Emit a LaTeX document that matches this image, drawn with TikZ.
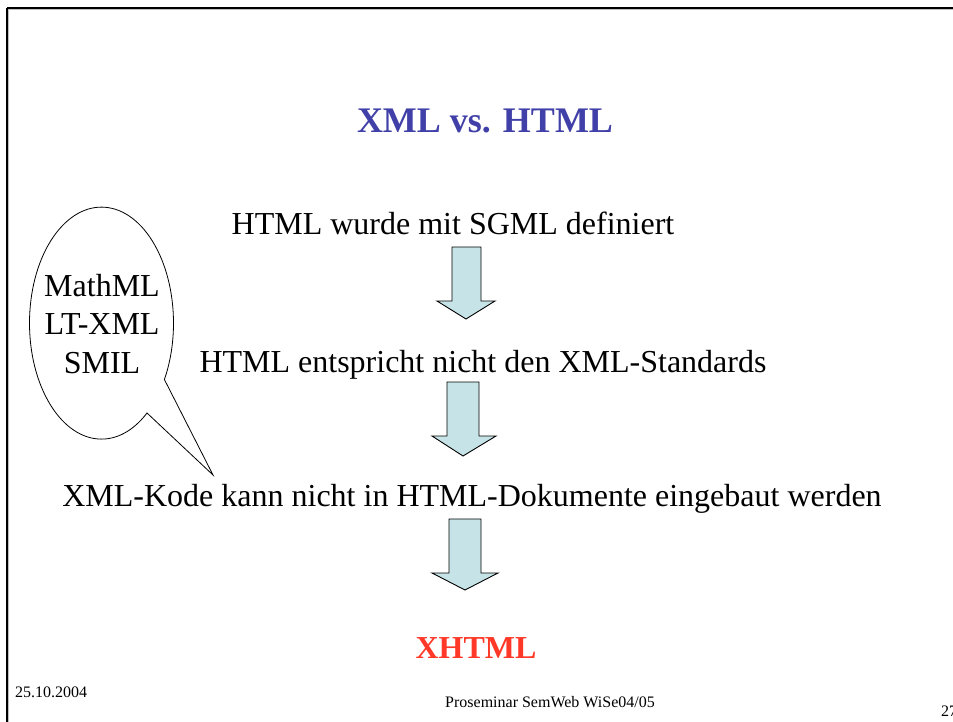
\documentclass[tikz,border=0pt]{standalone}
\usepackage{fontspec}
\setmainfont{Liberation Serif}
\definecolor{titleblue}{RGB}{64,64,168}
\definecolor{xred}{RGB}{255,56,40}
\definecolor{arrowfill}{RGB}{198,228,231}
\begin{document}
\begin{tikzpicture}[x=1pt,y=-1pt,
  body/.style={anchor=base,inner sep=0pt,font=\fontsize{32}{38.5}\selectfont},
  foot/.style={anchor=base west,inner sep=0pt,font=\fontsize{16}{19}\selectfont},
  blockarrow/.style={draw=black,line width=0.9pt,fill=arrowfill,line join=miter}]
\useasboundingbox (0,0) rectangle (953,722);
% frame
\draw[gray!50,line width=1.2pt] (8.5,9.5) -- (953,9.5);
\draw[gray!50,line width=1.2pt] (8.5,9.5) -- (8.5,722);
\draw[black,line width=1.1pt] (7,8) -- (953,8);
\draw[black,line width=1.1pt] (7,8) -- (7,722);
% title
\node[body,font=\fontsize{36}{40}\selectfont\bfseries,text=titleblue] (title) at (485,133) {XML vs. HTML};
% lines
\node[body] (l1) at (453,235) {HTML wurde mit SGML definiert};
\node[body] (l2) at (483,372) {HTML entspricht nicht den XML-Standards};
\node[body] (l3) at (472,506) {XML-Kode kann nicht in HTML-Dokumente eingebaut werden};
\node[body,font=\fontsize{32}{38.5}\selectfont\bfseries,text=xred] (xhtml) at (476,658) {XHTML};
% block arrows
\draw[blockarrow] (452,247) -- (481,247) -- (481,301) -- (495,301) -- (466,319) -- (437,301) -- (452,301) -- cycle;
\draw[blockarrow] (447,382) -- (479,382) -- (479,436) -- (496,436) -- (463,456) -- (432,436) -- (447,436) -- cycle;
\draw[blockarrow] (449,519) -- (481,519) -- (481,573) -- (498,573) -- (465,590) -- (432,573) -- (449,573) -- cycle;
% speech balloon
\coordinate (tailA) at (147,413);
\coordinate (tip) at (213,475);
\draw[line width=0.8pt] (tailA) arc[start angle=50.8,end angle=389.1,x radius=72,y radius=116] -- (tip) -- cycle;
\node[anchor=base,inner sep=0pt,align=center,font=\fontsize{32}{38.5}\selectfont] (bubble) at (102,373) {MathML\\LT-XML\\SMIL};
% footer
\node[foot] (date) at (15,697) {25.10.2004};
\node[foot,anchor=base] (seminar) at (550,707) {Proseminar SemWeb WiSe04/05};
\node[foot] (page) at (941,716) {27};
\end{tikzpicture}
\end{document}
